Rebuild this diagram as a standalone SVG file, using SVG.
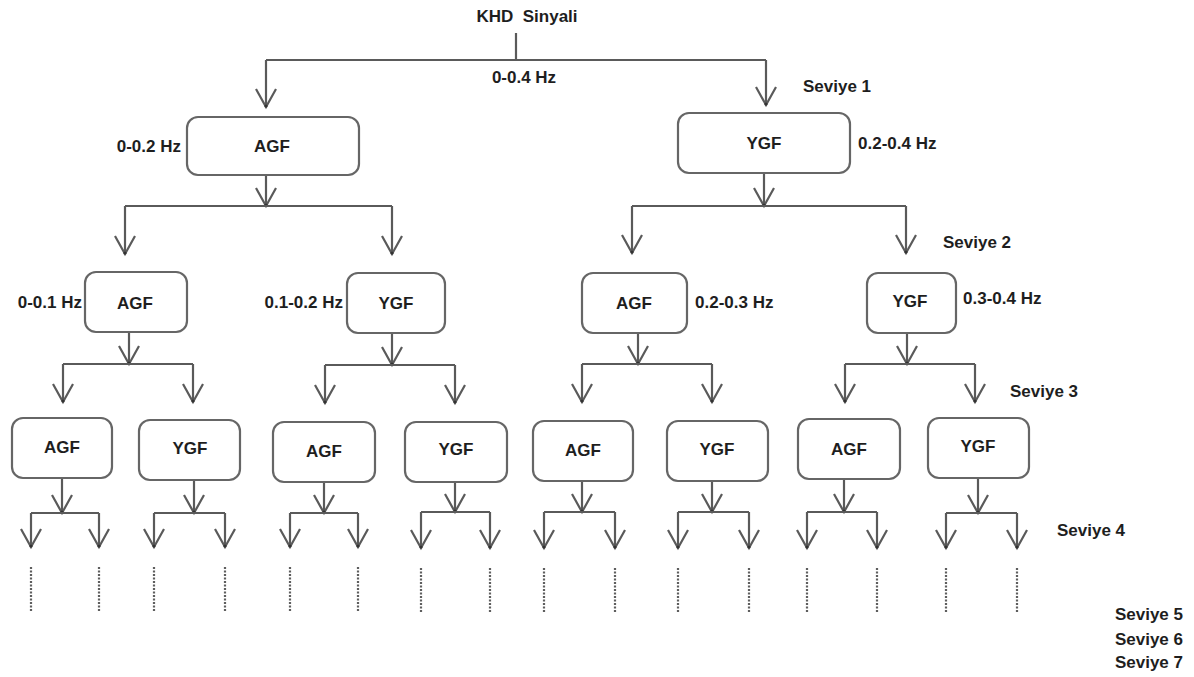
<svg xmlns="http://www.w3.org/2000/svg" width="1194" height="677" viewBox="0 0 1194 677">
<style>
  .box{fill:#ffffff;stroke:#666666;stroke-width:2.2}
  .t{font-family:"Liberation Sans",Arial,sans-serif;font-weight:bold;font-size:17px;fill:#1e1e1e;dominant-baseline:central}
  .c{text-anchor:middle}
  .e{text-anchor:end}
  .ln{fill:none;stroke:#5a5a5a;stroke-width:2.2}
  .ar{fill:none;stroke:#5a5a5a;stroke-width:2.2;marker-end:url(#v)}
  .dot{fill:none;stroke:#5e5e5e;stroke-width:2.2;stroke-dasharray:2 1.5}
</style>
<defs>
  <marker id="v" viewBox="-20 -12 22 24" refX="0" refY="0" markerWidth="22" markerHeight="24" markerUnits="userSpaceOnUse" orient="auto" overflow="visible">
    <path d="M-18,-10 L0,0 L-18,10" fill="none" stroke="#5a5a5a" stroke-width="2.2"/>
    <circle cx="-1" cy="0" r="1.6" fill="#333"/>
  </marker>
</defs>
<rect width="1194" height="677" fill="#ffffff"/>

<g id="connectors">
  <path class="ln" d="M516,33 V60 M266,60 H766"/>
  <path class="ar" d="M266,60 V107"/>
  <path class="ar" d="M766,60 V105"/>
  <path class="ar" d="M266,175 V206"/>
  <path class="ln" d="M125,206 H392"/>
  <path class="ar" d="M125,206 V254"/>
  <path class="ar" d="M392,206 V254"/>
  <path class="ar" d="M764,173 V206"/>
  <path class="ln" d="M632,206 H906"/>
  <path class="ar" d="M632,206 V253"/>
  <path class="ar" d="M906,206 V253"/>
  <path class="ar" d="M129,332 V364"/>
  <path class="ln" d="M63,364 H193"/>
  <path class="ar" d="M63,364 V402"/>
  <path class="ar" d="M193,364 V402"/>
  <path class="ar" d="M392,333 V365"/>
  <path class="ln" d="M325,365 H455"/>
  <path class="ar" d="M325,365 V403"/>
  <path class="ar" d="M455,365 V403"/>
  <path class="ar" d="M638,333 V364"/>
  <path class="ln" d="M582,364 H712"/>
  <path class="ar" d="M582,364 V402"/>
  <path class="ar" d="M712,364 V402"/>
  <path class="ar" d="M907,333 V364"/>
  <path class="ln" d="M845,364 H975"/>
  <path class="ar" d="M845,364 V402"/>
  <path class="ar" d="M975,364 V402"/>
  <path class="ar" d="M62,478 V513"/>
  <path class="ln" d="M31,513 H99"/>
  <path class="ar" d="M31,513 V547"/>
  <path class="ar" d="M99,513 V547"/>
  <path class="ar" d="M194,480 V513"/>
  <path class="ln" d="M154,513 H225"/>
  <path class="ar" d="M154,513 V547"/>
  <path class="ar" d="M225,513 V547"/>
  <path class="ar" d="M324,482 V513"/>
  <path class="ln" d="M290,513 H358"/>
  <path class="ar" d="M290,513 V547"/>
  <path class="ar" d="M358,513 V547"/>
  <path class="ar" d="M455,482 V512"/>
  <path class="ln" d="M421,512 H490"/>
  <path class="ar" d="M421,512 V548"/>
  <path class="ar" d="M490,512 V548"/>
  <path class="ar" d="M582,481 V512"/>
  <path class="ln" d="M544,512 H615"/>
  <path class="ar" d="M544,512 V548"/>
  <path class="ar" d="M615,512 V548"/>
  <path class="ar" d="M712,481 V512"/>
  <path class="ln" d="M678,512 H749"/>
  <path class="ar" d="M678,512 V548"/>
  <path class="ar" d="M749,512 V548"/>
  <path class="ar" d="M844,479 V512"/>
  <path class="ln" d="M807,512 H877"/>
  <path class="ar" d="M807,512 V548"/>
  <path class="ar" d="M877,512 V548"/>
  <path class="ar" d="M978,478 V513"/>
  <path class="ln" d="M946,513 H1017"/>
  <path class="ar" d="M946,513 V548"/>
  <path class="ar" d="M1017,513 V548"/>
  <path class="dot" d="M31,567 V612 M99,567 V612 M154,567 V612 M225,567 V612 M290,567 V612 M358,567 V612 M421,568 V612 M490,568 V612 M544,568 V612 M615,568 V612 M678,568 V612 M749,568 V612 M807,568 V612 M877,568 V612 M946,568 V612 M1017,568 V612"/>
</g>

<g id="root"><text class="t c" x="527" y="16">KHD&#160; Sinyali</text></g>
<g id="lbl-root-freq"><text class="t c" x="524" y="77">0-0.4 Hz</text></g>

<g id="n1-agf"><rect class="box" x="187" y="117" width="172" height="58" rx="11"/><text class="t c" x="272" y="146">AGF</text></g>
<g id="n1-ygf"><rect class="box" x="678" y="113" width="172" height="60" rx="11"/><text class="t c" x="764" y="143">YGF</text></g>

<g id="n2-agf-a"><rect class="box" x="85" y="272" width="102" height="60" rx="11"/><text class="t c" x="135" y="303">AGF</text></g>
<g id="n2-ygf-b"><rect class="box" x="347" y="273" width="98" height="60" rx="11"/><text class="t c" x="396" y="303">YGF</text></g>
<g id="n2-agf-c"><rect class="box" x="582" y="273" width="105" height="60" rx="11"/><text class="t c" x="634" y="303">AGF</text></g>
<g id="n2-ygf-d"><rect class="box" x="867" y="273" width="89" height="60" rx="11"/><text class="t c" x="910" y="301">YGF</text></g>

<g id="n3-1"><rect class="box" x="12" y="418" width="100" height="60" rx="11"/><text class="t c" x="62" y="447">AGF</text></g>
<g id="n3-2"><rect class="box" x="139" y="420" width="101" height="60" rx="11"/><text class="t c" x="190" y="448">YGF</text></g>
<g id="n3-3"><rect class="box" x="273" y="422" width="102" height="60" rx="11"/><text class="t c" x="324" y="451">AGF</text></g>
<g id="n3-4"><rect class="box" x="405" y="422" width="102" height="60" rx="11"/><text class="t c" x="456" y="449">YGF</text></g>
<g id="n3-5"><rect class="box" x="533" y="421" width="100" height="60" rx="11"/><text class="t c" x="583" y="450">AGF</text></g>
<g id="n3-6"><rect class="box" x="667" y="421" width="101" height="60" rx="11"/><text class="t c" x="717" y="449">YGF</text></g>
<g id="n3-7"><rect class="box" x="798" y="419" width="102" height="60" rx="11"/><text class="t c" x="849" y="449">AGF</text></g>
<g id="n3-8"><rect class="box" x="928" y="418" width="101" height="60" rx="11"/><text class="t c" x="978" y="446">YGF</text></g>

<g id="freq-labels">
  <text class="t e" x="181" y="146">0-0.2 Hz</text>
  <text class="t" x="858" y="143">0.2-0.4 Hz</text>
  <text class="t e" x="82" y="302">0-0.1 Hz</text>
  <text class="t e" x="343" y="302">0.1-0.2 Hz</text>
  <text class="t" x="695" y="302">0.2-0.3 Hz</text>
  <text class="t" x="963" y="298">0.3-0.4 Hz</text>
</g>

<g id="levels">
  <text class="t" x="803" y="86">Seviye 1</text>
  <text class="t" x="943" y="242">Seviye 2</text>
  <text class="t" x="1010" y="391">Seviye 3</text>
  <text class="t" x="1057" y="530">Seviye 4</text>
  <text class="t e" x="1183" y="614">Seviye 5</text>
  <text class="t e" x="1183" y="639">Seviye 6</text>
  <text class="t e" x="1183" y="662">Seviye 7</text>
</g>
</svg>
